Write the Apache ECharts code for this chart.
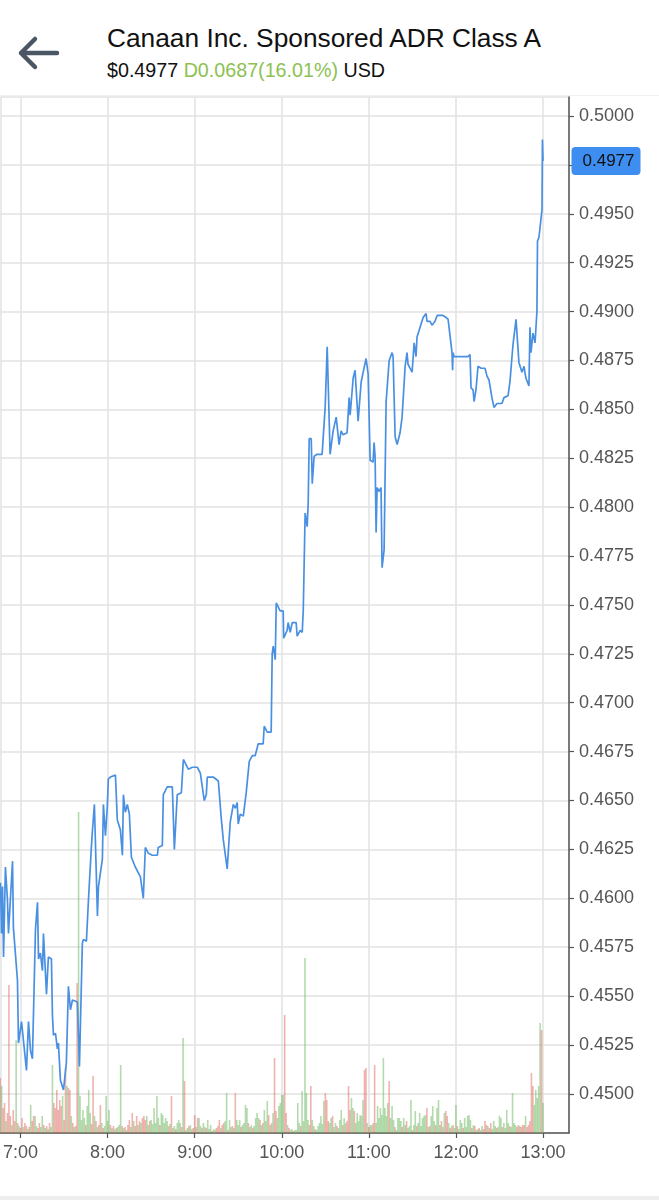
<!DOCTYPE html>
<html>
<head>
<meta charset="utf-8">
<script src="https://cdn.jsdelivr.net/npm/echarts/dist/echarts.min.js"></script>
<style>
  html,body{margin:0;padding:0;background:#fff;}
  body{width:659px;height:1200px;overflow:hidden;position:relative;font-family:"Liberation Sans",Arial,Helvetica,sans-serif;}
  #chart{position:absolute;left:0;top:0;width:659px;height:1200px;}
  #header{position:absolute;left:0;top:0;width:659px;height:95px;background:#fff;border-bottom:1px solid #f0f0f0;z-index:2;}
  #back{position:absolute;left:14px;top:30px;}
  #title{position:absolute;left:107px;top:23px;font-size:26.3px;line-height:30px;color:#111;white-space:nowrap;}
  #sub{position:absolute;left:107px;top:59px;font-size:19.7px;line-height:22px;color:#111;white-space:nowrap;}
  #sub .chg{color:#8cc152;}
  #footer{position:absolute;left:0;top:1196px;width:659px;height:4px;background:#eeeeee;z-index:2;}
</style>
</head>
<body>
<div id="chart"></div>
<div id="header">
  <svg id="back" width="50" height="45" viewBox="0 0 50 45">
    <path d="M43 23 L7 23 M21 9 L7 23 L21 37" fill="none" stroke="#4a5663" stroke-width="4.5" stroke-linecap="round" stroke-linejoin="round"/>
  </svg>
  <div id="title">Canaan Inc. Sponsored ADR Class A</div>
  <div id="sub">$0.4977 <span class="chg">D0.0687(16.01%)</span> USD</div>
</div>
<div id="footer"></div>
<script>
// ---- price line (time in minutes after midnight, price in USD) ----
var priceTimes = [
406.2,406.9,407.6,408.3,409.6,411.0,411.7,414.5,415.1,415.8,417.9,418.6,420.7,422.0,424.1,425.5,426.9,428.2,430.3,431.7,
432.4,433.7,435.1,435.8,437.9,439.2,441.3,442.0,442.7,444.1,445.4,446.1,447.5,449.6,451.6,453.0,454.4,455.8,459.2,460.6,
462.6,463.3,465.4,466.8,468.8,469.5,470.9,473.0,473.7,475.0,476.4,477.1,478.5,479.8,480.5,481.9,485.4,486.7,488.8,490.2,
490.9,492.2,493.6,495.0,496.4,497.7,499.1,501.2,502.6,504.6,506.0,508.1,510.8,514.3,514.9,517.7,518.4,521.1,524.6,526.0,
528.0,530.8,532.2,535.6,538.4,541.8,543.9,545.2,546.6,548.0,548.7,550.1,552.8,556.3,558.3,559.7,562.4,564.5,566.6,568.0,
569.3,570.0,571.4,573.5,575.5,577.6,579.7,581.7,583.8,587.2,587.9,590.0,592.7,593.4,594.1,595.5,596.2,598.9,601.0,601.3,
603.7,604.4,605.8,607.2,609.9,610.6,612.7,614.1,614.8,616.1,617.5,618.2,618.9,620.3,621.0,622.3,624.4,625.1,627.8,628.5,
629.9,631.3,633.3,635.4,637.5,639.5,640.9,642.3,643.0,645.0,646.4,647.1,649.2,650.5,652.6,654.7,656.1,658.1,659.5,660.9,
662.9,663.6,664.3,665.0,665.7,667.1,668.4,669.1,670.5,671.9,672.6,674.0,676.0,676.7,678.1,679.5,681.5,682.9,683.6,685.0,
686.3,687.0,689.8,690.5,691.2,692.5,693.2,695.3,697.4,698.0,699.4,700.1,702.2,703.5,704.2,705.6,707.0,711.1,713.2,714.6,
715.9,717.3,717.7,718.0,718.7,721.4,722.1,723.5,728.3,729.7,730.4,731.8,732.5,733.8,735.2,737.3,740.0,741.4,742.8,744.8,
746.2,748.3,751.7,753.1,755.9,757.2,759.3,761.4,762.1,763.4,765.5,766.9,768.2,770.3,771.0,771.7,773.1,773.8,774.5,775.8,
776.2,777.2,779.3,779.6,780.0
];
var priceValues = [
0.4608,0.4582,0.4606,0.4570,0.4616,0.4599,0.4582,0.4619,0.4585,0.4585,0.4558,0.4526,0.4537,0.4536,0.4512,0.4537,0.4522,0.4518,0.4584,0.4598,
0.4569,0.4572,0.4563,0.4582,0.4551,0.4570,0.4569,0.4540,0.4530,0.4531,0.4523,0.4526,0.4507,0.4502,0.4516,0.4555,0.4543,0.4548,0.4547,0.4514,
0.4577,0.4579,0.4578,0.4599,0.4626,0.4634,0.4648,0.4591,0.4606,0.4606,0.4620,0.4648,0.4632,0.4647,0.4661,0.4662,0.4663,0.4640,0.4635,0.4622,
0.4653,0.4644,0.4648,0.4643,0.4621,0.4621,0.4616,0.4613,0.4611,0.4600,0.4626,0.4623,0.4622,0.4622,0.4626,0.4627,0.4653,0.4657,0.4657,0.4625,
0.4653,0.4654,0.4671,0.4666,0.4667,0.4667,0.4664,0.4663,0.4650,0.4653,0.4662,0.4662,0.4662,0.4660,0.4641,0.4630,0.4615,0.4639,0.4648,0.4646,
0.4649,0.4638,0.4643,0.4642,0.4654,0.4670,0.4673,0.4673,0.4679,0.4679,0.4688,0.4685,0.4685,0.4725,0.4729,0.4722,0.4751,0.4747,0.4747,0.4733,
0.4737,0.4741,0.4736,0.4741,0.4741,0.4734,0.4737,0.4736,0.4747,0.4797,0.4790,0.4802,0.4835,0.4835,0.4812,0.4826,0.4827,0.4828,0.4827,0.4828,
0.4851,0.4882,0.4827,0.4839,0.4846,0.4832,0.4839,0.4837,0.4838,0.4838,0.4856,0.4847,0.4866,0.4870,0.4844,0.4864,0.4869,0.4876,0.4868,0.4824,
0.4823,0.4833,0.4826,0.4787,0.4810,0.4808,0.4810,0.4769,0.4778,0.4854,0.4855,0.4875,0.4879,0.4877,0.4836,0.4832,0.4838,0.4846,0.4846,0.4872,
0.4879,0.4873,0.4869,0.4868,0.4884,0.4877,0.4887,0.4892,0.4897,0.4897,0.4899,0.4895,0.4895,0.4893,0.4894,0.4895,0.4898,0.4898,0.4897,0.4896,
0.4895,0.4879,0.4870,0.4879,0.4877,0.4877,0.4878,0.4877,0.4877,0.4878,0.4861,0.4860,0.4854,0.4860,0.4872,0.4871,0.4871,0.4867,0.4865,0.4856,
0.4851,0.4853,0.4853,0.4856,0.4857,0.4864,0.4883,0.4896,0.4896,0.4874,0.4869,0.4872,0.4866,0.4862,0.4892,0.4879,0.4889,0.4890,0.4884,0.4900,
0.4936,0.4938,0.4952,0.4988,0.4977
];

// ---- volume bars: one per minute starting 6:46, in hundreds of shares ----
var volumeStart = 406; // 6:46
var volumes = [
55,47,25,30,12,20,148,17,8,23,
12,93,10,7,5,15,6,10,7,4,
6,28,12,17,17,7,5,10,6,17,
8,5,7,4,10,6,68,30,25,43,
23,33,27,37,13,65,47,45,43,17,
10,6,7,150,321,37,13,23,15,8,
27,43,20,9,57,17,12,6,8,28,
10,5,7,37,12,23,8,5,7,4,
5,6,8,68,7,5,6,3,8,13,
6,20,12,7,17,8,12,10,15,17,
13,17,8,12,13,9,25,10,37,15,
8,20,18,10,15,12,7,9,37,5,
7,4,10,13,10,6,95,52,3,5,
7,8,4,5,18,6,15,15,7,5,
10,6,5,13,4,8,2,4,3,5,
7,13,5,8,10,12,40,3,13,6,
7,5,40,13,8,13,6,8,10,28,
25,10,6,8,5,7,15,20,15,13,
8,10,23,12,32,18,8,10,20,75,
22,15,27,30,38,38,118,20,8,5,
3,4,2,3,3,30,10,7,42,12,
175,40,13,8,47,13,7,4,3,7,
10,17,9,32,40,33,12,10,15,17,
6,10,7,5,13,23,8,15,10,12,
47,23,35,25,22,10,20,12,18,17,
33,63,65,10,6,8,8,10,68,10,
27,15,25,18,75,25,17,30,52,15,
27,13,6,3,15,15,12,6,15,8,
12,5,7,33,3,8,22,7,10,20,
7,15,17,18,25,6,7,17,27,12,
8,25,33,8,12,6,20,22,17,10,
5,7,8,5,28,7,4,13,10,5,
15,6,17,18,13,5,8,7,3,4,
5,3,7,4,12,8,7,5,10,4,
12,7,5,6,17,15,6,10,5,23,
10,7,6,40,10,8,6,8,7,6,
8,8,17,6,8,12,60,47,28,43,
35,47,110,103,30
];
// u = up minute (green), d = down minute (red)
var volumeDirs = (
"duddu dddud dudud duddu duddu udduu dudud uuddd dddud duddu duddu uuuud " +
"uuudd ududd uduuu ududu duuud ududd ududd ududd duudu uuuuu duuuu ududu " +
"uduuu duduu duudd uduud uuduu uduud ddudd uuduu duduu uduuu uduud uuuud " +
"uduuu dudud duuuu uddud uuduu uuduu uuudd uuduu uuuud dduud uuduu uduud " +
"dduud uuuuu uddud uuddu uuuuu uuudu uuduu uuduu duuud uuduu uuuud uduuu " +
"duuud uuddu duduu duuud uuuuu duduu duudd duddu uuduu uduuu uduuu uddud " +
"ddudd ddduu uuudu").replace(/ /g,"").split("");

// ---- axes ----
var xMin = 406.2, xMax = 797.9;      // 6:46 .. 13:18
var yMin = 0.4480, yMax = 0.50097;
var yStep = 0.0025, xStep = 60;
var volumeAxisMax = 1036;
var lastPrice = 0.4977;

var priceData = priceTimes.map(function(t,i){ return [t, priceValues[i]]; });
var volData = volumes.map(function(v,i){
  var up = volumeDirs[i] === 'u';
  return { value:[volumeStart + i, v],
           itemStyle:{ color: up ? 'rgba(110,185,95,0.52)' : 'rgba(225,110,100,0.52)' } };
});

function pad(n){ return (n<10?'0':'')+n; }
var FONT = '"Liberation Sans", Arial, sans-serif';

var chart = echarts.init(document.getElementById('chart'), null, {renderer:'canvas'});
chart.setOption({
  animation:false,
  backgroundColor:'#ffffff',
  grid:{left:0, right:90, top:97, bottom:67, containLabel:false},
  xAxis:{
    type:'value', min:xMin, max:xMax, minInterval:xStep, maxInterval:xStep, splitNumber:6,
    axisLine:{show:true, onZero:false, lineStyle:{color:'#555', width:1.5}},
    axisTick:{show:true, length:5, lineStyle:{color:'#555', width:1.2}},
    axisLabel:{
      color:'#555', fontSize:18, margin:11, showMinLabel:false, showMaxLabel:false,
      fontFamily:FONT,
      formatter:function(v){ var m=Math.round(v); return Math.floor(m/60)+':'+pad(m%60); }
    },
    splitLine:{show:true, lineStyle:{color:'#e2e2e2', width:1.5}}
  },
  yAxis:[{
    type:'value', position:'right', min:yMin, max:yMax, minInterval:yStep, maxInterval:yStep, splitNumber:20,
    axisLine:{show:true, lineStyle:{color:'#555', width:1.5}},
    axisTick:{show:true, length:5, lineStyle:{color:'#555', width:1.2}},
    axisLabel:{
      color:'#555', fontSize:18, margin:10, showMinLabel:false, showMaxLabel:false,
      fontFamily:FONT,
      formatter:function(v){ return v.toFixed(4); }
    },
    splitLine:{show:true, lineStyle:{color:'#e2e2e2', width:1.5}}
  },{
    type:'value', show:false, min:0, max:volumeAxisMax, splitLine:{show:false}
  }],
  series:[{
    type:'bar', xAxisIndex:0, yAxisIndex:1, barWidth:1.6, data:volData, silent:true, z:1
  },{
    type:'line', xAxisIndex:0, yAxisIndex:0, data:priceData, showSymbol:false, symbol:'none',
    lineStyle:{color:'#4a90e2', width:1.7}, z:3, silent:true, clip:false,
    markPoint:{
      silent:true, symbol:'rect', symbolSize:[1,1], z:10,
      itemStyle:{color:'rgba(0,0,0,0)'},
      data:[{coord:[xMax, lastPrice]}],
      label:{
        show:true, position:'right', distance:2,
        formatter:function(){ return lastPrice.toFixed(4); },
        backgroundColor:'#3d8ef0', borderRadius:4, padding:[6,6,5,11],
        color:'#111', fontSize:17, fontFamily:FONT
      }
    }
  }]
});
</script>
</body>
</html>
